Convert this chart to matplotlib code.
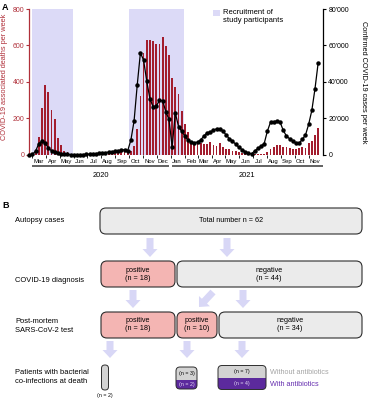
import matplotlib.pyplot as plt
import matplotlib.dates as mdates
import matplotlib.transforms as mtransforms
from matplotlib.patches import FancyBboxPatch, FancyArrow, Rectangle
from matplotlib.ticker import FuncFormatter, FixedLocator
import pandas as pd

plt.rcParams['font.family'] = ['Liberation Sans', 'DejaVu Sans']

# weekly data, first week starting 2020-02-24
weeks = pd.date_range('2020-02-24', periods=92, freq='7D')
deaths = [0, 2, 15, 100, 255, 386, 344, 244, 195, 95, 55, 22, 15, 8, 5,
          3, 2, 2, 1, 2, 2, 3, 3, 4, 5, 6, 8, 10, 12, 15, 18, 20, 22,
          50, 145, 325, 560, 630, 628, 625, 608, 610, 645, 595, 550, 420, 375, 333, 242,
          168, 127, 67, 64, 64, 67, 60, 62, 71, 55, 49, 67, 44, 35, 31, 22, 20, 16, 13, 10,
          8, 6, 5, 5, 6, 8, 18, 31, 45, 55, 55, 45, 44, 36, 35, 35, 36, 45, 36, 64,
          76, 109, 148]
cases = [0, 300, 2200, 6300, 7600, 6600, 3800, 2300, 1400, 900, 600, 400, 300, 200, 150,
         150, 180, 250, 350, 500, 650, 800, 900, 1100, 1300, 1600, 1800, 2000, 2300, 2700, 2900, 2400,
         8200, 18600, 38400, 56000, 52000, 40400, 30800, 26400, 26800, 29900, 29800, 23700, 19500,
         4400, 23100, 15600, 13000, 10400, 8000, 7000, 6700, 7100, 8300,
         10400, 12200, 12600, 13500, 14400, 14400, 13100, 11000, 9000, 7500,
         6000, 4200, 3000, 1800, 900, 700, 2200, 3600, 4900, 6300,
         13100, 18000, 18300, 18600, 18000, 13500, 10400, 8900, 7700, 6400,
         6400, 8600, 10900, 16800, 24400, 36300, 50500]
recruitment = [('2020-03-01', '2020-05-31'), ('2020-10-01', '2021-01-31')]
years = ['2020', '2021']
year_spans = [('2020-03-01', '2020-12-28'), ('2021-01-04', '2021-12-02')]

# flowchart labels
row_labels = ['Autopsy cases', 'COVID-19 diagnosis', 'Post-mortem\nSARS-CoV-2 test',
              'Patients with bacterial\nco-infections at death']
total_n = 62
diag_pos, diag_neg = 18, 44
pm_pos_a, pm_pos_b, pm_neg = 18, 10, 34
coinf_without = [2, 3, 7]
coinf_with = [0, 2, 4]

red = '#b0303a'
bar_red = '#a31d2e'
lavender = '#dcdaf7'
arrow_col = '#d8d7f6'
pink = '#f4b5b3'
grey_box = '#ebebeb'
grey_cap = '#d3d3d3'
purple = '#5c2a9d'
edge = '#2e2e2e'

fig = plt.figure(figsize=(3.68, 4.0), dpi=100)

# ---------------- panel A ----------------
ax = fig.add_axes([29 / 368, 1 - 155 / 400, (322.7 - 29) / 368, 146 / 400])
for start, end in recruitment:
    ax.axvspan(pd.Timestamp(start), pd.Timestamp(end), color=lavender, lw=0, zorder=0)
ax.bar(weeks, deaths, width=4, color=bar_red, zorder=2)
ax.set_ylim(0, 800)
ax.set_xlim(weeks[0] - pd.Timedelta(days=0.7), weeks[-1] + pd.Timedelta(days=10))
ax.set_yticks([0, 200, 400, 600, 800])
for s in ['top', 'right', 'bottom']:
    ax.spines[s].set_visible(False)
ax.spines['left'].set_color(red)
ax.spines['left'].set_linewidth(0.9)
ax.tick_params(axis='y', colors=red, labelsize=5, length=2.5, width=0.8, pad=1)

# month ticks
month_starts = pd.date_range('2020-03-01', '2021-12-01', freq='MS')
month_mid = month_starts + pd.Timedelta(days=14)
month_mid = month_mid[month_mid < pd.Timestamp('2021-12-01')]
ax.xaxis.set_major_locator(FixedLocator(mdates.date2num(month_mid)))
ax.set_xticklabels([d.strftime('%b') for d in month_mid])
ax.xaxis.set_minor_locator(FixedLocator(mdates.date2num(month_starts[:-1])))
ax.tick_params(axis='x', which='major', length=0, labelsize=4.3, pad=3.2)
ax.tick_params(axis='x', which='minor', length=2.5, width=0.6)

trans = mtransforms.blended_transform_factory(ax.transData, ax.transAxes)
for yr, (s, e) in zip(years, year_spans):
    x0, x1 = mdates.date2num(pd.Timestamp(s)), mdates.date2num(pd.Timestamp(e))
    ax.plot([x0, x1], [-0.073, -0.073], transform=trans, clip_on=False,
            color='#555555', lw=1.3, solid_capstyle='butt')
    ax.text((x0 + x1) / 2, -0.137, yr, transform=trans, ha='center', va='center', fontsize=5.4)

ax2 = ax.twinx()
ax2.plot(weeks, cases, color='black', lw=0.9, marker='o', ms=2.2, clip_on=False, zorder=3)
ax2.set_ylim(0, 80000)
ax2.set_yticks([0, 20000, 40000, 60000, 80000])
ax2.yaxis.set_major_formatter(FuncFormatter(lambda v, p: f"{int(v):,}".replace(',', "'")))
for s in ['top', 'left', 'bottom']:
    ax2.spines[s].set_visible(False)
ax2.spines['right'].set_linewidth(0.9)
ax2.tick_params(axis='y', labelsize=5, length=2.5, width=0.8, pad=1.5)

fig.text(5 / 368, 1 - 77 / 400, 'COVID-19 associated deaths per week', rotation=90,
         color=red, fontsize=5.3, ha='center', va='center')
fig.text(363 / 368, 1 - 82 / 400, 'Confirmed COVID-19 cases per week', rotation=270,
         color='black', fontsize=5.3, ha='center', va='center')

# ---------------- overlay (legend, panel B) ----------------
ov = fig.add_axes([0, 0, 1, 1])
ov.set_xlim(0, 368)
ov.set_ylim(400, 0)
ov.axis('off')

ov.text(2, 7, 'A', fontsize=6.5, fontweight='bold', va='center')
ov.text(2, 205, 'B', fontsize=6.5, fontweight='bold', va='center')

ov.add_patch(Rectangle((213.3, 10), 6.4, 5.7, color=lavender, lw=0))
ov.text(223.3, 9.2, 'Recruitment of\nstudy participants', fontsize=5.5, va='top', ha='left',
        linespacing=1.25)

for lab, y in zip(row_labels, [221, 280, 326, 377]):
    ov.text(15, y, lab, fontsize=5.4, va='center', ha='left', linespacing=1.25)


def box(x0, x1, y0, y1, fc, r=6, lw=0.8, ec=edge):
    p = FancyBboxPatch((x0 + r, y0 + r), x1 - x0 - 2 * r, y1 - y0 - 2 * r,
                       boxstyle=f'round,pad={r}', fc=fc, ec=ec, lw=lw)
    ov.add_patch(p)
    return p


def arrow(x, y, dx, dy):
    ov.add_patch(FancyArrow(x, y, dx, dy, width=7, head_width=15, head_length=8,
                            length_includes_head=True, color=arrow_col, lw=0))


box(100, 362, 208, 234, grey_box)
ov.text(231, 221, f'Total number n = {total_n}', fontsize=5.2, ha='center', va='center')

arrow(150, 238, 0, 19)
arrow(227, 238, 0, 19)

box(101, 175, 261, 287, pink)
box(177, 362, 261, 287, grey_box)
ov.text(138, 274, f'positive\n(n = {diag_pos})', fontsize=5.2, ha='center', va='center', linespacing=1.2)
ov.text(269, 274, f'negative\n(n = {diag_neg})', fontsize=5.2, ha='center', va='center', linespacing=1.2)

arrow(133, 290, 0, 18)
arrow(213, 292, -14, 15)
arrow(243, 290, 0, 18)

box(101, 175, 312, 338, pink)
box(177, 217, 312, 338, pink)
box(219, 362, 312, 338, grey_box)
ov.text(138, 325, f'positive\n(n = {pm_pos_a})', fontsize=5.2, ha='center', va='center', linespacing=1.2)
ov.text(197, 325, f'positive\n(n = {pm_pos_b})', fontsize=5.2, ha='center', va='center', linespacing=1.2)
ov.text(290, 325, f'negative\n(n = {pm_neg})', fontsize=5.2, ha='center', va='center', linespacing=1.2)

arrow(110, 341, 0, 17)
arrow(187, 341, 0, 17)
arrow(242, 341, 0, 17)

# co-infection capsules
caps = [(101.5, 108.5, 365, 390, None), (176, 197, 367, 389, 380), (218, 266, 365.5, 389.5, 377.5)]
for (x0, x1, y0, y1, split), nwo, nw in zip(caps, coinf_without, coinf_with):
    r = min(3.5, (x1 - x0) / 2 - 0.1) if split is None else 4
    box(x0, x1, y0, y1, grey_cap, r=r, lw=0.7, ec='none')
    if split is not None:
        p = box(x0, x1, y0, y1, purple, r=r, lw=0, ec='none')
        clip = Rectangle((x0 - 1, split), x1 - x0 + 2, y1 - split + 1, transform=ov.transData)
        p.set_clip_path(clip)
        xc = (x0 + x1) / 2
        ov.text(xc, (y0 + split) / 2, f'(n = {nwo})', fontsize=3.8, ha='center', va='center')
        ov.text(xc, (split + y1) / 2, f'(n = {nw})', fontsize=3.8, ha='center', va='center',
                color='#e6ddf5')
    else:
        ov.text((x0 + x1) / 2, y1 + 6, f'(n = {nwo})', fontsize=3.8, ha='center', va='center')
    box(x0, x1, y0, y1, 'none', r=r, lw=0.7)

ov.text(270, 372, 'Without antibiotics', fontsize=5.2, color='#a5a5a5', va='center')
ov.text(270, 384, 'With antibiotics', fontsize=5.2, color='#6630b0', va='center')

fig.savefig('out.png', dpi=100)
